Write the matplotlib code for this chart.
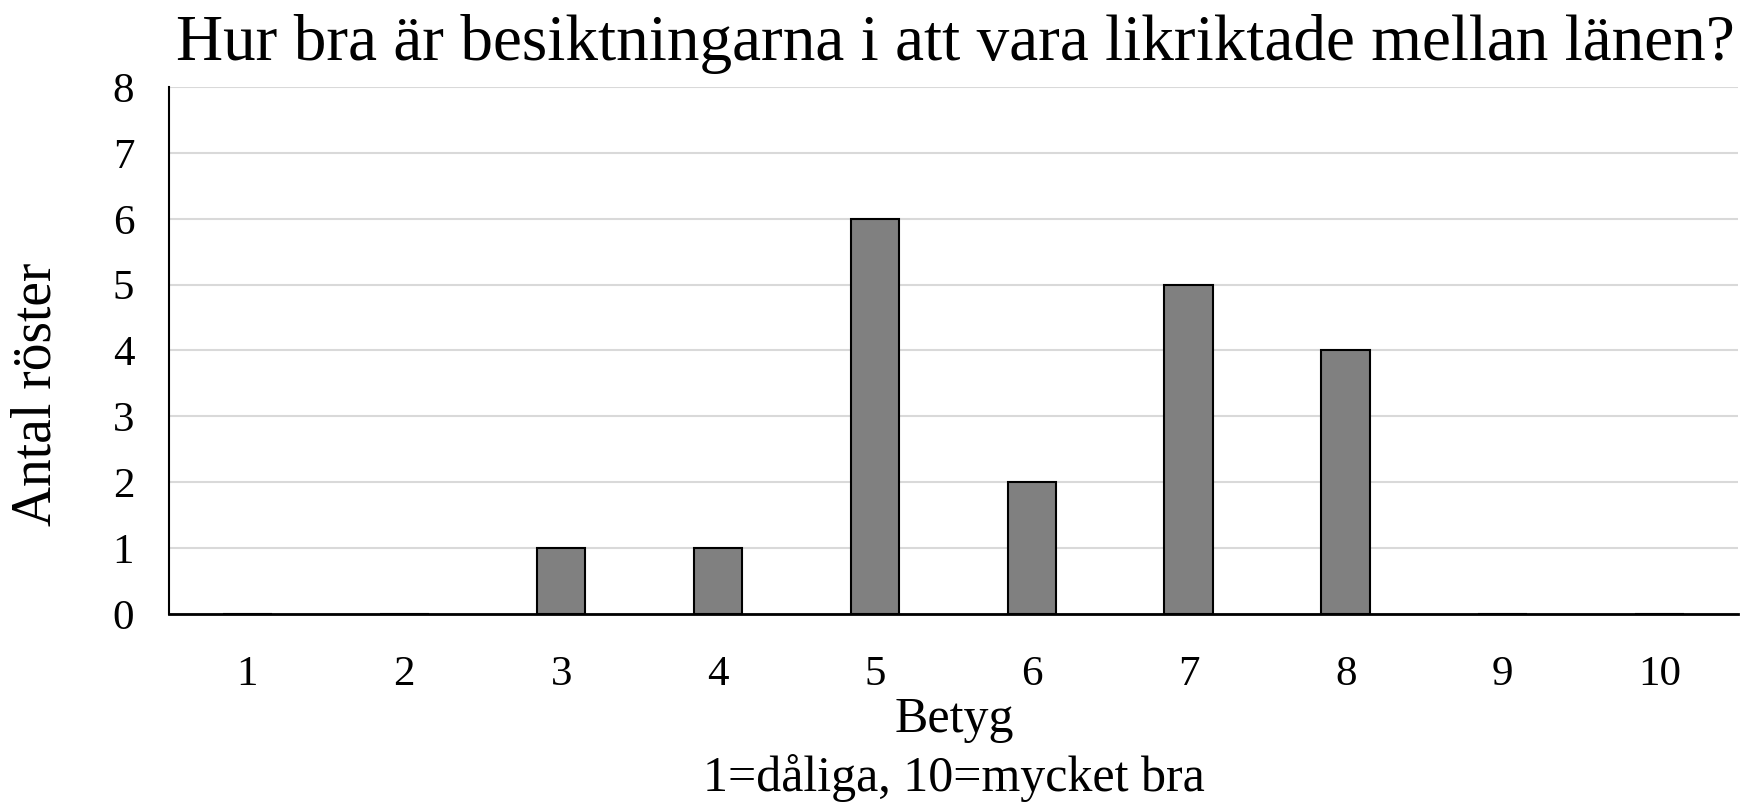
import matplotlib
matplotlib.use("Agg")
import matplotlib.pyplot as plt

# Survey results: number of votes per rating
ratings = [1, 2, 3, 4, 5, 6, 7, 8, 9, 10]
votes = [0, 0, 1, 1, 6, 2, 5, 4, 0, 0]
tick_labels = [str(r) for r in ratings]

title = "Hur bra är besiktningarna i att vara likriktade mellan länen?"
xlabel = "Betyg"
xnote = "1=dåliga, 10=mycket bra"
ylabel = "Antal röster"

plt.rcParams["font.family"] = ["Liberation Serif", "DejaVu Serif"]

fig = plt.figure(figsize=(17.47, 8.05), dpi=100)
ax = fig.add_axes([0.0967, 0.2373, 0.8981, 0.6546])

x = list(range(len(ratings)))
ax.bar(x, votes, width=0.31, color="#808080", edgecolor="black",
       linewidth=1.5, zorder=3)

ax.set_xlim(-0.5, len(ratings) - 0.5)
ax.set_ylim(0, 8)
ax.set_yticks(range(0, 9))
ax.set_xticks(x)
ax.set_xticklabels(tick_labels)
ax.tick_params(axis="both", length=0, labelsize=31)
ax.tick_params(axis="x", pad=30)
ax.tick_params(axis="y", pad=25)

ax.grid(axis="y", color="#d9d9d9", linewidth=1.5, zorder=0)
for s in ("top", "right"):
    ax.spines[s].set_visible(False)
ax.spines["left"].set_linewidth(1.5)
ax.spines["bottom"].set_linewidth(2)

fig.text(0.547, 0.926, title, ha="center", va="baseline", fontsize=47)
fig.text(0.546, 0.106, xlabel, ha="center", va="center", fontsize=36)
fig.text(0.546, 0.034, xnote, ha="center", va="center", fontsize=36)
fig.text(0.021, 0.51, ylabel, ha="center", va="center", rotation=90,
         fontsize=40)

fig.savefig("out.png", dpi=100)
